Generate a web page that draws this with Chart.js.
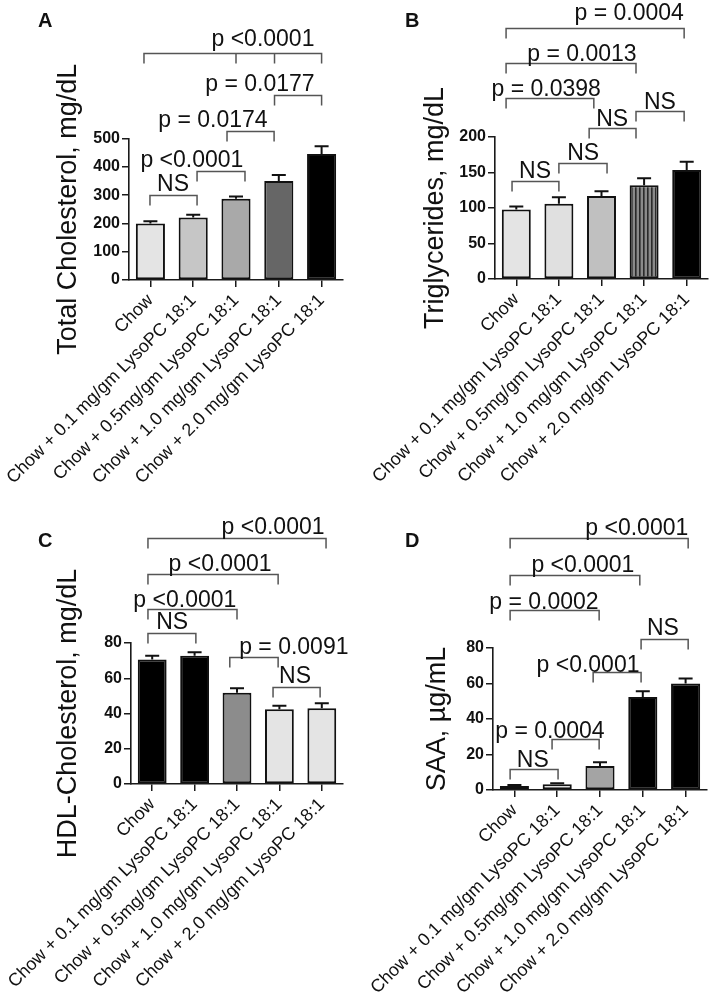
<!DOCTYPE html>
<html>
<head>
<meta charset="utf-8">
<script src="https://cdn.jsdelivr.net/npm/chart.js@4/dist/chart.umd.min.js"></script>
<style>
  body { margin: 0; background: #fff; }
  #fig { position: relative; width: 711px; height: 997px; }
  #fig canvas { position: absolute; }
</style>
</head>
<body>
<div id="fig">
  <canvas id="panelA" width="355" height="497" style="left:0;top:0"></canvas>
  <canvas id="panelB" width="356" height="497" style="left:355px;top:0"></canvas>
  <canvas id="panelC" width="355" height="500" style="left:0;top:497px"></canvas>
  <canvas id="panelD" width="356" height="500" style="left:355px;top:497px"></canvas>
</div>
<script>
// groups on the x axis (same for all four panels)
const categories = [
  'Chow',
  'Chow + 0.1 mg/gm LysoPC 18:1',
  'Chow + 0.5mg/gm LysoPC 18:1',
  'Chow + 1.0 mg/gm LysoPC 18:1',
  'Chow + 2.0 mg/gm LysoPC 18:1'
];

// A - total cholesterol
const cholMean = [200, 221, 287, 350, 445];
const cholSem = [8, 10, 8, 21, 28];
const cholTicks = [0, 100, 200, 300, 400, 500];

// B - triglycerides
const trigMean = [98, 106, 117, 132, 153.5];
const trigSem = [4, 9, 6.5, 10, 11.5];
const trigTicks = [0, 50, 100, 150, 200];

// C - HDL cholesterol
const hdlMean = [70.7, 72.8, 51.8, 42.4, 43];
const hdlSem = [2, 2, 2.5, 2, 2.8];
const hdlTicks = [0, 20, 40, 60, 80];

// D - SAA
const saaMean = [2.2, 3.2, 13.5, 52.4, 60];
const saaSem = [0.6, 0.6, 2.1, 3.2, 2.8];
const saaTicks = [0, 20, 40, 60, 80];

// significance brackets: from/to in category index, y in axis units, label x in category index
const cholBrackets = [
  { from: -0.15, to: 4.0, y: 803, drops: [2.0, 2.9], text: 'p <0.0001', tx: 2.63, lift: 8 },
  { from: 2.9, to: 4.0, y: 654, text: 'p = 0.0177', tx: 2.56 },
  { from: 1.79, to: 2.89, y: 527, text: 'p = 0.0174', tx: 1.46 },
  { from: 1.09, to: 2.21, y: 385, text: 'p <0.0001', tx: 0.97 },
  { from: -0.01, to: 1.09, y: 300, text: 'NS', tx: 0.53 }
];
const trigBrackets = [
  { from: -0.24, to: 3.94, y: 353.5, text: 'p = 0.0004', tx: 2.65, lift: 9 },
  { from: -0.24, to: 2.81, y: 304, text: 'p = 0.0013', tx: 1.54, lift: 3 },
  { from: -0.24, to: 1.82, y: 255, text: 'p = 0.0398', tx: 0.70, lift: 3 },
  { from: 2.81, to: 3.94, y: 236.6, text: 'NS', tx: 3.37, lift: 3 },
  { from: 1.71, to: 2.81, y: 212.7, text: 'NS', tx: 2.25, lift: 3 },
  { from: 1.0, to: 2.13, y: 163.4, text: 'NS', tx: 1.57, lift: 4 },
  { from: -0.1, to: 1.0, y: 138, text: 'NS', tx: 0.44, lift: 4 }
];
const hdlBrackets = [
  { from: -0.1, to: 4.1, y: 139.6, text: 'p <0.0001', tx: 2.85 },
  { from: -0.1, to: 2.97, y: 119.1, text: 'p <0.0001', tx: 1.6, lift: 4 },
  { from: -0.1, to: 2.0, y: 99.3, text: 'p <0.0001', tx: 0.77, lift: 3 },
  { from: -0.1, to: 1.03, y: 85.7, text: 'NS', tx: 0.47 },
  { from: 1.83, to: 2.97, y: 72, text: 'p = 0.0091', tx: 3.34, lift: 4 },
  { from: 2.85, to: 3.96, y: 55, text: 'NS', tx: 3.37 }
];
const saaBrackets = [
  { from: -0.1, to: 4.06, y: 141.7, text: 'p <0.0001', tx: 2.86, lift: 4 },
  { from: -0.1, to: 2.93, y: 121.4, text: 'p <0.0001', tx: 1.6, lift: 4 },
  { from: -0.1, to: 1.98, y: 101.2, text: 'p = 0.0002', tx: 0.69, lift: 2 },
  { from: 2.96, to: 4.06, y: 84.9, text: 'NS', tx: 3.47 },
  { from: 1.84, to: 2.96, y: 66.3, text: 'p <0.0001', tx: 1.72, lift: 1 },
  { from: 0.88, to: 1.98, y: 28.7, text: 'p = 0.0004', tx: 0.83, lift: 2 },
  { from: -0.1, to: 1.02, y: 11.8, text: 'NS', tx: 0.43, lift: 3 }
];

Chart.defaults.font.family = "'Liberation Sans', Arial, sans-serif";
Chart.defaults.color = '#111';

function stripes() {
  // vertical hatching used for the 1.0 mg/gm triglyceride bar
  const c = document.createElement('canvas');
  c.width = 4; c.height = 4;
  const g = c.getContext('2d');
  g.fillStyle = '#8a8a8a';
  g.fillRect(0, 0, 4, 4);
  g.fillStyle = '#2a2a2a';
  g.fillRect(0, 0, 1.6, 4);
  return g.createPattern(c, 'repeat');
}

const annotate = {
  id: 'annotate',
  afterDatasetsDraw(chart) {
    const cfg = chart.options.plugins.annotate;
    const { ctx } = chart;
    const xs = chart.scales.x;
    const ys = chart.scales.y;
    const px = v => xs.left + (v + 0.5) * (xs.width / categories.length);
    ctx.save();

    // error bars (upper half only)
    ctx.strokeStyle = '#111';
    ctx.lineWidth = 2;
    chart.getDatasetMeta(0).data.forEach((bar, i) => {
      const top = ys.getPixelForValue(cfg.mean[i] + cfg.sem[i]);
      ctx.beginPath();
      ctx.moveTo(bar.x, bar.y);
      ctx.lineTo(bar.x, top);
      ctx.moveTo(bar.x - 7, top);
      ctx.lineTo(bar.x + 7, top);
      ctx.stroke();
    });

    // brackets
    ctx.strokeStyle = '#555';
    ctx.lineWidth = 1.5;
    ctx.fillStyle = '#111';
    ctx.font = "23px 'Liberation Sans', Arial, sans-serif";
    ctx.textAlign = 'center';
    ctx.textBaseline = 'alphabetic';
    cfg.brackets.forEach(b => {
      const y = Math.round(ys.getPixelForValue(b.y)) + 0.5;
      const x1 = px(b.from), x2 = px(b.to);
      ctx.beginPath();
      ctx.moveTo(x1, y + 10);
      ctx.lineTo(x1, y);
      ctx.lineTo(x2, y);
      ctx.lineTo(x2, y + 10);
      (b.drops || []).forEach(d => {
        ctx.moveTo(px(d), y);
        ctx.lineTo(px(d), y + 10);
      });
      ctx.stroke();
      ctx.fillText(b.text, px(b.tx), y - (b.lift ?? 5));
    });

    // panel letter
    ctx.font = "bold 20px 'Liberation Sans', Arial, sans-serif";
    ctx.textAlign = 'left';
    ctx.fillText(cfg.letter, cfg.letterX, cfg.letterY);
    ctx.restore();
  }
};

function makePanel(id, p) {
  return new Chart(document.getElementById(id), {
    type: 'bar',
    data: {
      labels: categories,
      datasets: [{
        data: p.mean,
        backgroundColor: p.colors,
        borderColor: '#111',
        borderWidth: 2,
        borderSkipped: false,
        barPercentage: 0.68,
        categoryPercentage: 1
      }]
    },
    options: {
      responsive: false,
      animation: false,
      layout: { padding: { left: p.padLeft, top: p.padTop, right: p.padRight, bottom: 0 } },
      plugins: {
        legend: { display: false },
        tooltip: { enabled: false },
        annotate: { mean: p.mean, sem: p.sem, brackets: p.brackets, letter: p.letter, letterX: p.letterX, letterY: p.letterY }
      },
      scales: {
        x: {
          offset: true,
          grid: { offset: false, drawOnChartArea: false, tickLength: 7, color: '#1a1a1a', lineWidth: 1.5 },
          border: { color: '#1a1a1a', width: 1.6 },
          ticks: { minRotation: 45, maxRotation: 45, autoSkip: false, padding: 3, font: { size: 18 } },
          afterFit: s => { s.height = p.xHeight; }
        },
        y: {
          min: 0,
          max: p.ticks[p.ticks.length - 1],
          afterBuildTicks: s => { s.ticks = p.ticks.map(v => ({ value: v })); },
          grid: { drawOnChartArea: false, tickLength: 7, color: '#1a1a1a', lineWidth: 1.5 },
          border: { color: '#1a1a1a', width: 1.6 },
          ticks: { padding: 2, font: { size: 16, weight: 'bold' } },
          title: { display: true, text: p.title, padding: 0, font: { size: 27 } },
          afterFit: s => { s.width = p.yWidth; }
        }
      }
    },
    plugins: [annotate]
  });
}

document.addEventListener('DOMContentLoaded', () => {
  makePanel('panelA', {
    mean: cholMean, sem: cholSem, ticks: cholTicks, brackets: cholBrackets,
    title: 'Total Cholesterol, mg/dL', letter: 'A', letterX: 38, letterY: 27,
    colors: ['#e4e4e4', '#c6c6c6', '#a9a9a9', '#666666', '#000000'],
    padLeft: 52, yWidth: 77, padTop: 138.5, padRight: 12, xHeight: 217
  });
  makePanel('panelB', {
    mean: trigMean, sem: trigSem, ticks: trigTicks, brackets: trigBrackets,
    title: 'Triglycerides, mg/dL', letter: 'B', letterX: 50, letterY: 27,
    colors: ['#e4e4e4', '#e0e0e0', '#c0c0c0', stripes(), '#000000'],
    padLeft: 64, yWidth: 76, padTop: 137, padRight: 3, xHeight: 218
  });
  makePanel('panelC', {
    mean: hdlMean, sem: hdlSem, ticks: hdlTicks, brackets: hdlBrackets,
    title: 'HDL-Cholesterol, mg/dL', letter: 'C', letterX: 38, letterY: 50,
    colors: ['#000000', '#000000', '#8c8c8c', '#e4e4e4', '#e4e4e4'],
    padLeft: 52, yWidth: 79, padTop: 146, padRight: 12, xHeight: 213
  });
  makePanel('panelD', {
    mean: saaMean, sem: saaSem, ticks: saaTicks, brackets: saaBrackets,
    title: 'SAA, \u00b5g/mL', letter: 'D', letterX: 50, letterY: 50,
    colors: ['#e4e4e4', '#e4e4e4', '#a4a4a4', '#000000', '#000000'],
    padLeft: 66, yWidth: 72, padTop: 151, padRight: 4, xHeight: 207
  });
});
</script>
</body>
</html>
